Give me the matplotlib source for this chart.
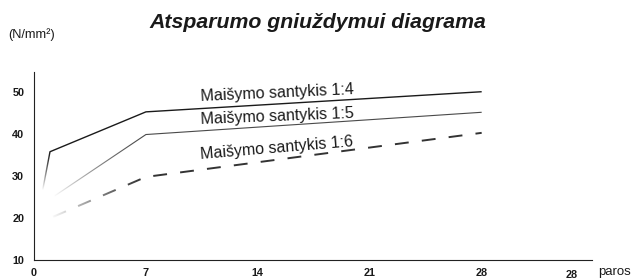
import numpy as np
import matplotlib
matplotlib.use("Agg")
import matplotlib.pyplot as plt
from matplotlib.patches import Polygon

plt.rcParams['font.family'] = ['Liberation Sans', 'DejaVu Sans']
plt.rcParams['lines.scale_dashes'] = False

# ---- data ----
days_14 = [0.55, 1.0, 7.0, 28.0]
vals_14 = [26.8, 35.8, 45.3, 50.1]
days_15 = [1.3, 7.0, 28.0]
vals_15 = [25.3, 39.9, 45.2]
days_16 = [1.2, 7.0, 28.0]
vals_16 = [20.3, 29.8, 40.3]
labels = ["Maišymo santykis 1:4", "Maišymo santykis 1:5", "Maišymo santykis 1:6"]
xticks = [0, 7, 14, 21, 28]
yticks = [10, 20, 30, 40, 50]
title = "Atsparumo gniuždymui diagrama"
ylabel = "(N/mm²)"
xlabel = "paros"
extra_tick = "28"

W, H = 632, 279
fig = plt.figure(figsize=(W / 100, H / 100), dpi=100)
ax = fig.add_axes([34 / W, 1 - 260 / H, (592 - 34) / W, (260 - 72) / H])
XMAX, YMIN, YMAX = 34.9, 10, 54.8
sx = (592 - 34) / XMAX
sy = (260 - 72) / (YMAX - YMIN)

ax.plot(days_14, vals_14, color='#1a1a1a', lw=1.0, solid_capstyle='butt', zorder=2)
ax.plot(days_15, vals_15, color='#4a4a4a', lw=0.8, solid_capstyle='butt', zorder=2)
ax.plot(days_16, vals_16, color='#333333', lw=1.4, dashes=(10, 9.5), zorder=2)


def fade(xa, ya, xb, yb, half=4.0, power=1.0, amax=0.97):
    # white gradient overlay along a segment, clipped to a thin band
    dxp, dyp = (xb - xa) * sx, (yb - ya) * sy
    L = np.hypot(dxp, dyp)
    ux, uy = dxp / L, dyp / L
    nx_, ny_ = -uy, ux
    pts = []
    for (px, py, s, ext) in [(xa, ya, -1, -2.0), (xb, yb, -1, 2.0), (xb, yb, 1, 2.0), (xa, ya, 1, -2.0)]:
        pts.append((px + (s * half * nx_ + ext * ux) / sx, py + (s * half * ny_ + ext * uy) / sy))
    xs = [p[0] for p in pts]; ys = [p[1] for p in pts]
    x0, x1, y0, y1 = min(xs), max(xs), min(ys), max(ys)
    gx = np.linspace(x0, x1, 200)
    gy = np.linspace(y0, y1, 200)
    X, Y = np.meshgrid(gx, gy)
    t = (((X - xa) * sx) * dxp + ((Y - ya) * sy) * dyp) / (L * L)
    a = np.clip(1 - t, 0, 1) ** power * amax
    img = np.ones((200, 200, 4))
    img[..., 3] = a
    im = ax.imshow(img, extent=[x0, x1, y0, y1], origin='lower', aspect='auto',
                   interpolation='bilinear', zorder=3)
    poly = Polygon(pts, closed=True, transform=ax.transData, facecolor='none', edgecolor='none')
    im.set_clip_path(poly)


fade(days_14[0], vals_14[0], days_14[1], vals_14[1], power=1.3)
fade(days_15[0], vals_15[0], days_15[1], vals_15[1], power=1.6)
fade(days_16[0], vals_16[0], days_16[1], vals_16[1], half=5, power=1.3)

ax.set_xlim(0, XMAX)
ax.set_ylim(YMIN, YMAX)
ax.set_xticks(xticks)
ax.set_yticks(yticks)
ax.tick_params(length=0)
ax.tick_params(axis='y', pad=7)
ax.tick_params(axis='x', pad=6)
for lab in ax.get_xticklabels() + ax.get_yticklabels():
    lab.set_fontweight('bold')
    lab.set_fontsize(7.8)
    lab.set_color('#1a1a1a')
for s in ['top', 'right']:
    ax.spines[s].set_visible(False)
for s in ['left', 'bottom']:
    ax.spines[s].set_color('#222222')
    ax.spines[s].set_linewidth(0.8)

# line labels
ax.text((201 - 34) / sx, YMIN + (260 - 101.5) / sy, labels[0], fontsize=11.5, rotation=2.6,
        rotation_mode='anchor', ha='left', va='baseline', color='#1a1a1a')
ax.text((201 - 34) / sx, YMIN + (260 - 124) / sy, labels[1], fontsize=11.5, rotation=2.3,
        rotation_mode='anchor', ha='left', va='baseline', color='#1a1a1a')
ax.text((201 - 34) / sx, YMIN + (260 - 159) / sy, labels[2], fontsize=11.5, rotation=4.8,
        rotation_mode='anchor', ha='left', va='baseline', color='#1a1a1a')

fig.text(318 / W, 1 - 28 / H, title, fontsize=15.3, fontweight='bold', fontstyle='italic',
         ha='center', va='baseline', color='#1a1a1a')
fig.text(8 / W, 1 - 38 / H, ylabel, fontsize=9.2, ha='left', va='baseline', color='#1a1a1a')
fig.text(572 / W, 1 - 275 / H, extra_tick, fontsize=7.8, fontweight='bold', ha='center',
         va='center', color='#1a1a1a')
fig.text(598 / W, 1 - 272 / H, xlabel, fontsize=9.5, ha='left', va='center', color='#1a1a1a')

fig.savefig("out.png", dpi=100)
